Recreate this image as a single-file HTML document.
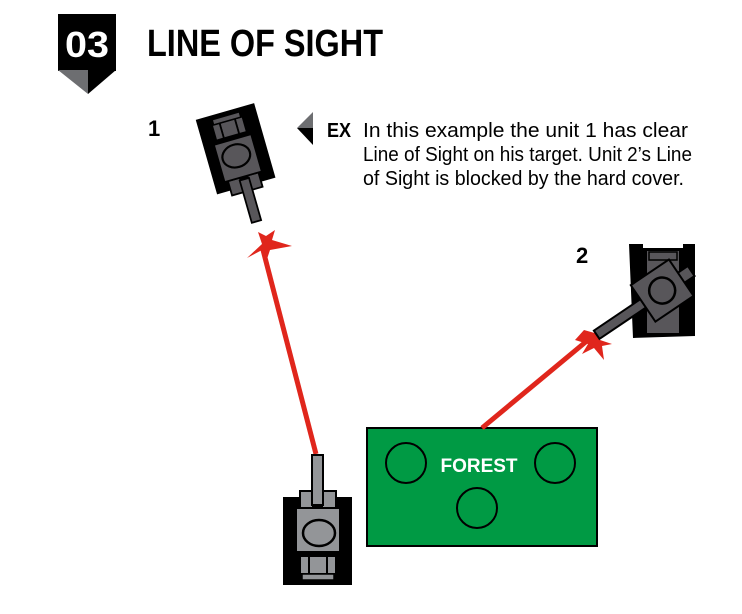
<!DOCTYPE html>
<html><head><meta charset="utf-8"><style>
html,body{margin:0;padding:0;background:#fff;}
svg{display:block;}
text{font-family:"Liberation Sans",sans-serif;}
</style></head><body>
<svg width="742" height="614" viewBox="0 0 742 614" xmlns="http://www.w3.org/2000/svg">
<defs>
<g id="tank">
  <path d="M-34,-40 L-18,-40 L-18,-46 L18,-46 L18,-40 L35,-40 L35,48 L-34,48 Z" fill="#000"/>
  <rect x="-17" y="-46" width="13" height="17" fill="currentColor" stroke="#000" stroke-width="2"/>
  <rect x="5" y="-46" width="14" height="17" fill="currentColor" stroke="#000" stroke-width="2"/>
  <rect x="-21" y="-29" width="44" height="44" fill="currentColor" stroke="#000" stroke-width="2"/>
  <ellipse cx="2" cy="-4" rx="16" ry="13" fill="currentColor" stroke="#000" stroke-width="2.5"/>
  <rect x="-17" y="19" width="9" height="18" fill="currentColor" stroke="#000" stroke-width="2"/>
  <rect x="-8" y="19" width="18" height="18" fill="currentColor" stroke="#000" stroke-width="2"/>
  <rect x="10" y="19" width="9" height="18" fill="currentColor" stroke="#000" stroke-width="2"/>
  <rect x="-15" y="37" width="32" height="6" fill="currentColor" stroke="#000" stroke-width="1.5"/>
  <rect x="-5" y="-82" width="11" height="50" fill="currentColor" stroke="#000" stroke-width="2"/>
</g>
</defs>

<!-- header badge -->
<rect x="58" y="14" width="58" height="57" fill="#000"/>
<path d="M58,70 L88,70 L88,94 Z" fill="#6d6e71"/>
<path d="M88,70 L116,70 L88,94 Z" fill="#000"/>
<text x="87" y="57" fill="#fff" font-size="36" font-weight="bold" text-anchor="middle" textLength="44" lengthAdjust="spacingAndGlyphs">03</text>
<text x="147" y="56" fill="#000" font-size="38" font-weight="bold" textLength="236" lengthAdjust="spacingAndGlyphs">LINE OF SIGHT</text>

<!-- EX text -->
<path d="M313,112 L297,128 L313,128 Z" fill="#6d6e71"/>
<path d="M297,128 L313,128 L313,145 Z" fill="#000"/>
<text x="327" y="137" font-size="20" font-weight="bold" textLength="24" lengthAdjust="spacingAndGlyphs">EX</text>
<text x="363" y="137" font-size="20" textLength="325" lengthAdjust="spacingAndGlyphs">In this example the unit 1 has clear</text>
<text x="363" y="161" font-size="20" textLength="329" lengthAdjust="spacingAndGlyphs">Line of Sight on his target. Unit 2’s Line</text>
<text x="363" y="185" font-size="20" textLength="321" lengthAdjust="spacingAndGlyphs">of Sight is blocked by the hard cover.</text>

<text x="148" y="136" font-size="22" font-weight="bold">1</text>
<text x="576" y="263" font-size="22" font-weight="bold">2</text>

<!-- forest -->
<rect x="367" y="428" width="230" height="118" fill="#009a44" stroke="#000" stroke-width="2"/>
<circle cx="406" cy="463" r="20" fill="none" stroke="#000" stroke-width="2"/>
<circle cx="555" cy="463" r="20" fill="none" stroke="#000" stroke-width="2"/>
<circle cx="477" cy="508" r="20" fill="none" stroke="#000" stroke-width="2"/>
<text x="479" y="472" fill="#fff" font-size="19" font-weight="bold" text-anchor="middle">FOREST</text>

<!-- red lines -->
<line x1="316" y1="454" x2="262" y2="246" stroke="#e0261c" stroke-width="5"/>
<line x1="482" y1="428" x2="588" y2="340" stroke="#e0261c" stroke-width="5"/>
<path d="M258,232 L262,244 L247,258 L262,250 L266,262 L270,250 L292,246 L272,240 L275,230 L266,236 Z" fill="#e0261c"/>
<path d="M598,334 L584,330 L575,340 L588,344 L582,354 L594,348 L604,360 L602,346 L612,344 L600,340 Z" fill="#e0261c"/>

<!-- tanks -->
<g transform="translate(317,537)" color="#939598"><use href="#tank"/></g>
<g transform="translate(237,152) rotate(164) scale(0.88)" color="#58565a"><use href="#tank"/></g>

<!-- tank 2 -->
<g transform="translate(663,290)">
  <path d="M-34,-46 L-20,-46 L-20,-42 L20,-42 L20,-46 L32,-46 L32,46 L-30,48 Z" fill="#000"/>
  <rect x="-17" y="-40" width="34" height="84" fill="#58565a" stroke="#000" stroke-width="2"/>
  <rect x="-14" y="-38" width="28" height="8" fill="#58565a" stroke="#000" stroke-width="1.5"/>
  <g transform="rotate(-124)">
    <rect x="-5" y="-80" width="10" height="58" fill="#58565a" stroke="#000" stroke-width="2"/>
    <rect x="-6" y="20" width="12" height="14" fill="#58565a" stroke="#000" stroke-width="2"/>
    <rect x="-22" y="-24" width="44" height="46" fill="#58565a" stroke="#000" stroke-width="2"/>
    <circle cx="0" cy="-1" r="13" fill="#58565a" stroke="#000" stroke-width="2.5"/>
  </g>
</g>
</svg>
</body></html>
